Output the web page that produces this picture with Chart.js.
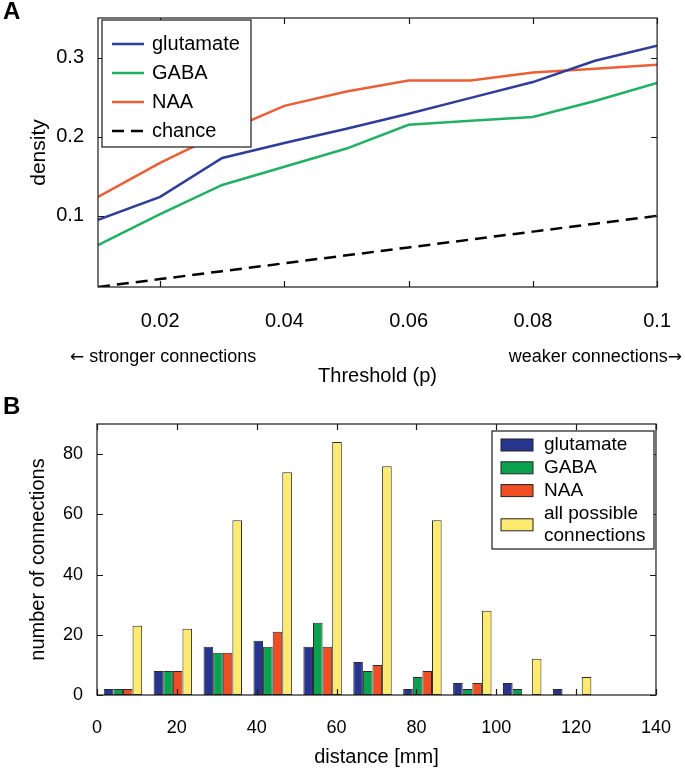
<!DOCTYPE html>
<html>
<head>
<meta charset="utf-8">
<script src="https://cdn.jsdelivr.net/npm/chart.js"></script>
<style>
  body { margin: 0; background: #fff; }
  #wrap { position: relative; width: 685px; height: 773px; font-family: "Liberation Sans", Arial, sans-serif; }
  canvas { position: absolute; left: 0; }
  .lbl { position: absolute; font-size: 24px; font-weight: bold; color: #000; }
  .note { position: absolute; font-size: 18px; color: #000; white-space: nowrap; line-height: 20px; }
  .arr { font-family: "DejaVu Sans", sans-serif; font-size: 17px; }
</style>
</head>
<body>
<div id="wrap">
  <canvas id="chartA" width="685" height="390" style="top:0"></canvas>
  <canvas id="chartB" width="685" height="383" style="top:390px"></canvas>
  <div class="lbl" style="left:3px; top:-3px">A</div>
  <div class="lbl" style="left:3px; top:392px">B</div>
  <div class="note" style="left:70px; top:346px"><span class="arr">&larr;</span> stronger connections</div>
  <div class="note" style="right:3px; top:346px">weaker connections<span class="arr">&rarr;</span></div>
</div>
<script>
// panel A: density vs threshold
const thresholds = [0.01, 0.02, 0.03, 0.04, 0.05, 0.06, 0.07, 0.08, 0.09, 0.1];
const gluDensity = [0.095, 0.124, 0.173, 0.192, 0.210, 0.229, 0.249, 0.269, 0.296, 0.315];
const gabaDensity = [0.063, 0.102, 0.139, 0.162, 0.185, 0.215, 0.220, 0.225, 0.245, 0.268];
const naaDensity = [0.124, 0.167, 0.205, 0.239, 0.257, 0.271, 0.271, 0.281, 0.286, 0.291];
const chanceDensity = [0.01, 0.02, 0.03, 0.04, 0.05, 0.06, 0.07, 0.08, 0.09, 0.1];
const xTicksA = [0.02, 0.04, 0.06, 0.08, 0.1];
const yTicksA = [0.1, 0.2, 0.3];

// panel B: connections per distance bin
const binCenters = [6.5, 19, 31.5, 44, 56.5, 69, 81.5, 94, 106.5, 119];
const gluCount = [2, 8, 16, 18, 16, 11, 2, 4, 4, 2];
const gabaCount = [2, 8, 14, 16, 24, 8, 6, 2, 2, 0];
const naaCount = [2, 8, 14, 21, 16, 10, 8, 4, 0, 0];
const allCount = [23, 22, 58, 74, 84, 76, 58, 28, 12, 6];
const xTicksB = [0, 20, 40, 60, 80, 100, 120, 140];
const yTicksB = [0, 20, 40, 60, 80];

Chart.defaults.font.family = '"Liberation Sans", Arial, sans-serif';
Chart.defaults.color = '#000';

// matlab style box with inward ticks
const boxFrame = {
  id: 'boxFrame',
  afterDatasetsDraw(chart) {
    const {ctx, chartArea: a, scales: {x, y}} = chart;
    const L = 6;
    ctx.save();
    ctx.strokeStyle = '#1a1a1a';
    ctx.lineWidth = 1.2;
    ctx.strokeRect(a.left, a.top, a.right - a.left, a.bottom - a.top);
    ctx.beginPath();
    x.ticks.forEach(t => {
      const px = Math.round(x.getPixelForValue(t.value)) + 0.5;
      ctx.moveTo(px, a.bottom); ctx.lineTo(px, a.bottom - L);
      ctx.moveTo(px, a.top); ctx.lineTo(px, a.top + L);
    });
    y.ticks.forEach(t => {
      const py = Math.round(y.getPixelForValue(t.value)) + 0.5;
      ctx.moveTo(a.left, py); ctx.lineTo(a.left + L, py);
      ctx.moveTo(a.right, py); ctx.lineTo(a.right - L, py);
    });
    ctx.stroke();
    ctx.restore();
  }
};

// legend box drawn inside the axes
const boxLegend = {
  id: 'boxLegend',
  afterDraw(chart, args, o) {
    const ctx = chart.ctx;
    ctx.save();
    ctx.fillStyle = '#fff';
    ctx.fillRect(o.x, o.y, o.w, o.h);
    ctx.strokeStyle = '#1a1a1a';
    ctx.lineWidth = 1.2;
    ctx.strokeRect(o.x, o.y, o.w, o.h);
    ctx.font = o.font;
    ctx.textBaseline = 'middle';
    let rowY = o.firstY;
    const maxW = o.x + o.w - o.textX - 3;
    chart.data.datasets.forEach(ds => {
      // simple word wrap
      const lines = [];
      let cur = '';
      ds.label.split(' ').forEach(w => {
        const test = cur ? cur + ' ' + w : w;
        if (cur && ctx.measureText(test).width > maxW) { lines.push(cur); cur = w; } else cur = test;
      });
      lines.push(cur);
      const midY = rowY + (lines.length - 1) * o.rowH / 2;
      if (o.kind === 'line') {
        ctx.strokeStyle = ds.borderColor;
        ctx.lineWidth = ds.borderWidth;
        ctx.setLineDash(ds.borderDash || []);
        ctx.beginPath();
        ctx.moveTo(o.sampleX, midY);
        ctx.lineTo(o.sampleX + o.sampleW, midY);
        ctx.stroke();
        ctx.setLineDash([]);
      } else {
        ctx.fillStyle = ds.backgroundColor;
        ctx.fillRect(o.sampleX, midY - 6, o.sampleW, 12);
        ctx.strokeStyle = '#222';
        ctx.lineWidth = 1;
        ctx.strokeRect(o.sampleX, midY - 6, o.sampleW, 12);
      }
      ctx.fillStyle = '#000';
      lines.forEach((ln, i) => ctx.fillText(ln, o.textX, rowY + i * o.rowH));
      rowY += lines.length * o.rowH;
    });
    ctx.restore();
  }
};

new Chart(document.getElementById('chartA'), {
  type: 'line',
  data: {
    labels: thresholds,
    datasets: [
      { label: 'glutamate', data: gluDensity, borderColor: '#2f3d9a', borderWidth: 2.5 },
      { label: 'GABA', data: gabaDensity, borderColor: '#22b064', borderWidth: 2.5 },
      { label: 'NAA', data: naaDensity, borderColor: '#eb5f36', borderWidth: 2.5 },
      { label: 'chance', data: chanceDensity, borderColor: '#000', borderWidth: 2.5, borderDash: [12, 7] }
    ]
  },
  options: {
    responsive: false,
    animation: false,
    elements: { point: { radius: 0 }, line: { tension: 0 } },
    layout: { padding: { top: 15, right: 23, left: 0, bottom: 0 } },
    plugins: {
      legend: { display: false },
      tooltip: { enabled: false },
      boxLegend: { x: 102, y: 20, w: 149, h: 127, firstY: 44, rowH: 29, sampleX: 112, sampleW: 32, textX: 152, kind: 'line', font: '20px "Liberation Sans", Arial, sans-serif' }
    },
    scales: {
      x: {
        type: 'linear', min: 0.01, max: 0.1,
        afterBuildTicks: s => { s.ticks = xTicksA.map(v => ({ value: v })); },
        afterFit: s => { s.height = 103; },
        grid: { display: false }, border: { display: false },
        ticks: { font: { size: 20 }, padding: 14, maxRotation: 0, callback: v => String(v) },
        title: { display: true, text: 'Threshold (p)', font: { size: 20 }, padding: { top: 0, bottom: 2 } }
      },
      y: {
        min: 0.01, max: 0.35,
        afterBuildTicks: s => { s.ticks = yTicksA.map(v => ({ value: v })); },
        afterFit: s => { s.width = 98; },
        grid: { display: false }, border: { display: false },
        ticks: { font: { size: 20 }, padding: 6, callback: v => String(v) },
        title: { display: true, text: 'density', font: { size: 21 }, padding: { top: 27, bottom: 0 } }
      }
    }
  },
  plugins: [boxFrame, boxLegend]
});

new Chart(document.getElementById('chartB'), {
  type: 'bar',
  data: {
    labels: binCenters,
    datasets: [
      { label: 'glutamate', data: gluCount, backgroundColor: '#28358f' },
      { label: 'GABA', data: gabaCount, backgroundColor: '#0aa24f' },
      { label: 'NAA', data: naaCount, backgroundColor: '#f04e22' },
      { label: 'all possible connections', data: allCount, backgroundColor: '#ffea70' }
    ]
  },
  options: {
    responsive: false,
    animation: false,
    layout: { padding: { top: 34, right: 24, left: 0, bottom: 0 } },
    datasets: {
      bar: { borderColor: '#2a2a2a', borderWidth: 1, borderSkipped: false, categoryPercentage: 0.77, barPercentage: 1 }
    },
    plugins: {
      legend: { display: false },
      tooltip: { enabled: false },
      boxLegend: { x: 492, y: 41, w: 162, h: 118, firstY: 55, rowH: 22.8, sampleX: 501, sampleW: 32, textX: 544, kind: 'box', font: '19px "Liberation Sans", Arial, sans-serif' }
    },
    scales: {
      x: {
        type: 'linear', min: 0, max: 140, offset: false,
        afterBuildTicks: s => { s.ticks = xTicksB.map(v => ({ value: v })); },
        afterFit: s => { s.height = 78; },
        grid: { display: false, offset: false }, border: { display: false },
        ticks: { font: { size: 18 }, padding: 14, maxRotation: 0 },
        title: { display: true, text: 'distance [mm]', font: { size: 20 }, padding: { top: 0, bottom: 4 } }
      },
      y: {
        min: 0, max: 90,
        afterBuildTicks: s => { s.ticks = yTicksB.map(v => ({ value: v })); },
        afterFit: s => { s.width = 97; },
        grid: { display: false }, border: { display: false },
        ticks: { font: { size: 18 }, padding: 6 },
        title: { display: true, text: 'number of connections', font: { size: 20 }, padding: { top: 26, bottom: 0 } }
      }
    }
  },
  plugins: [boxFrame, boxLegend]
});
</script>
</body>
</html>
